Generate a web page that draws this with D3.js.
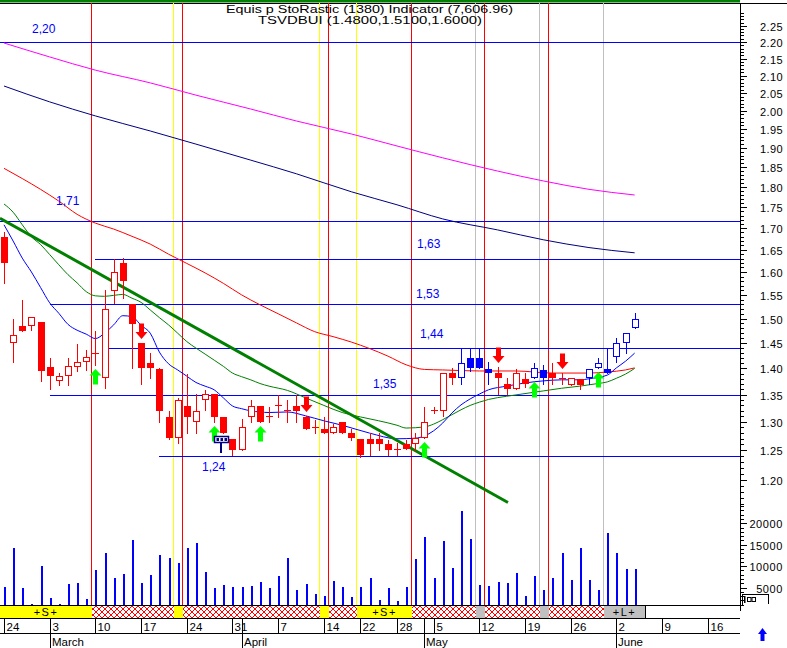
<!DOCTYPE html>
<html><head><meta charset="utf-8">
<script src="https://cdn.jsdelivr.net/npm/d3@7"></script>
<style>body{margin:0;background:#fff}svg{display:block}text{font-family:"Liberation Sans",Arial,sans-serif}</style>
</head><body><svg id="c" width="787" height="648"></svg>
<script>
// ---------- DATA ----------
const open  = [1.680,1.450,1.485,1.485,1.493,1.403,1.376,1.385,1.403,1.412,1.431,1.381,1.559,1.621,1.530,1.450,1.411,1.399,1.309,1.271,1.329,1.299,1.340,1.351,1.308,1.269,1.250,1.309,1.329,1.311,1.330,1.322,1.329,1.308,1.290,1.288,1.280,1.299,1.280,1.270,1.270,1.270,1.261,1.252,1.261,1.261,1.271,1.322,1.320,1.391,1.381,1.420,1.420,1.399,1.391,1.370,1.360,1.379,1.381,1.397,1.392,1.381,1.369,1.379,1.381,1.400,1.399,1.423,1.451,1.480];
const high  = [1.690,1.500,1.540,1.503,1.493,1.420,1.392,1.421,1.448,1.436,1.475,1.560,1.628,1.631,1.530,1.450,1.430,1.400,1.320,1.343,1.390,1.352,1.359,1.351,1.308,1.269,1.306,1.340,1.329,1.328,1.349,1.340,1.349,1.311,1.303,1.308,1.297,1.299,1.288,1.270,1.280,1.280,1.268,1.262,1.268,1.280,1.328,1.328,1.391,1.400,1.440,1.440,1.440,1.413,1.403,1.381,1.399,1.391,1.411,1.407,1.410,1.391,1.381,1.379,1.399,1.420,1.440,1.460,1.471,1.512];
const low   = [1.575,1.413,1.475,1.476,1.376,1.360,1.368,1.368,1.394,1.396,1.407,1.362,1.532,1.543,1.400,1.371,1.381,1.300,1.270,1.262,1.281,1.281,1.321,1.299,1.281,1.242,1.250,1.300,1.300,1.300,1.309,1.300,1.300,1.288,1.280,1.280,1.280,1.281,1.268,1.239,1.242,1.250,1.242,1.242,1.252,1.250,1.271,1.316,1.310,1.371,1.371,1.394,1.400,1.371,1.352,1.351,1.360,1.365,1.381,1.371,1.371,1.371,1.369,1.361,1.371,1.400,1.391,1.413,1.431,1.480];
const close = [1.620,1.466,1.475,1.503,1.394,1.386,1.385,1.405,1.412,1.422,1.431,1.521,1.600,1.581,1.489,1.400,1.400,1.320,1.271,1.340,1.309,1.319,1.351,1.309,1.281,1.250,1.290,1.329,1.300,1.311,1.330,1.322,1.320,1.288,1.290,1.280,1.290,1.281,1.271,1.242,1.260,1.260,1.250,1.252,1.252,1.271,1.300,1.322,1.391,1.381,1.410,1.400,1.400,1.392,1.381,1.361,1.391,1.370,1.400,1.381,1.381,1.381,1.381,1.369,1.399,1.410,1.391,1.451,1.471,1.500];
const volume = [5070,14180,4840,1100,10050,2500,1240,5770,6000,2340,9110,13160,7170,8180,16120,6150,7940,12620,11850,10820,14250,15490,8650,4840,5540,5070,5070,5370,6310,4840,7710,11850,4440,5770,3430,3040,6540,5140,2880,5070,7240,2100,4910,1900,5210,11610,16820,7170,15890,9500,22900,16360,5610,5370,6240,6000,8410,3040,7710,4440,7170,13080,6780,14320,6780,4440,17690,13160,9280,9350];
const blueCandles = [50,51,52,53,58,59,64,65,66,67,68,69];

const maBlue = [[0,1.708],[1,1.670],[2,1.631],[3,1.600],[4,1.566],[5,1.533],[6,1.511],[7,1.488],[8,1.476],[9,1.468],[10,1.459],[11,1.470],[12,1.487],[13,1.506],[14,1.504],[15,1.486],[16,1.470],[17,1.432],[18,1.409],[19,1.397],[20,1.385],[21,1.373],[22,1.366],[23,1.359],[24,1.344],[25,1.329],[26,1.324],[27,1.320],[28,1.318],[29,1.317],[31,1.318],[33,1.311],[35,1.302],[37,1.294],[40,1.280],[43,1.270],[45,1.271],[46,1.275],[47,1.284],[48,1.298],[49,1.316],[50,1.331],[51,1.342],[52,1.351],[53,1.359],[55,1.366],[57,1.372],[59,1.376],[61,1.378],[63,1.378],[64,1.380],[66,1.387],[67,1.401],[68,1.414],[69,1.430]];
const maGreen = [[0,1.758],[1,1.738],[2,1.708],[3,1.680],[4,1.662],[5,1.639],[6,1.616],[7,1.594],[8,1.576],[9,1.557],[10,1.548],[11,1.547],[12,1.549],[13,1.551],[14,1.543],[15,1.534],[16,1.518],[17,1.502],[18,1.487],[19,1.470],[20,1.453],[21,1.440],[22,1.428],[23,1.416],[24,1.404],[25,1.391],[26,1.384],[27,1.378],[28,1.371],[29,1.366],[31,1.358],[33,1.344],[35,1.330],[37,1.317],[39,1.309],[41,1.302],[43,1.294],[44,1.289],[46,1.291],[47,1.296],[48,1.304],[49,1.313],[50,1.322],[51,1.330],[52,1.336],[53,1.341],[55,1.347],[57,1.352],[59,1.357],[61,1.362],[63,1.366],[65,1.371],[66,1.374],[67,1.381],[68,1.389],[69,1.400]];
const maRed = [[0,1.847],[2,1.821],[4,1.794],[6,1.765],[8,1.733],[10,1.712],[12,1.698],[14,1.681],[16,1.663],[18,1.640],[20,1.619],[22,1.598],[24,1.575],[26,1.550],[28,1.529],[30,1.510],[32,1.491],[34,1.473],[36,1.463],[38,1.452],[40,1.439],[42,1.424],[44,1.407],[46,1.398],[48,1.397],[52,1.395],[56,1.395],[60,1.391],[64,1.391],[66,1.393],[68,1.397],[69,1.401]];
const maNavy = [[0,2.070],[5,2.025],[10,1.986],[16,1.945],[21,1.910],[27,1.868],[32,1.833],[38,1.788],[43,1.756],[48,1.722],[54,1.696],[59,1.673],[64,1.655],[69,1.643]];
const maMagenta = [[0,2.197],[5,2.155],[10,2.116],[16,2.079],[21,2.044],[27,2.005],[32,1.972],[38,1.937],[43,1.905],[48,1.874],[54,1.840],[59,1.815],[64,1.794],[69,1.780]];
const trendLine = [[-0.44,1.7235],[55.14,1.1628]];

const levels      = [2.20,1.718,1.63,1.53,1.44,1.35,1.24];
const levelLabels = ["2,20","1,71","1,63","1,53","1,44","1,35","1,24"];
const levelStart  = [-1,-1,10,5,11,5,17];

const upSignals   = [10,23,28,46,58,65];
const downSignals = [15,33,54,61];
const exdIndex    = 24;

const redLines    = [9.5,19.5,35.5,44.5,52.5,59.5];
const yellowLines = [18.5,34.5,38.5];
const grayLines   = [51.5,58.5,65.5];
const statusSegs  = [[-1,9.5,"Y","+S+"],[9.5,18.5,"H",""],[18.5,19.5,"Y",""],[19.5,34.5,"H",""],[34.5,35.5,"Y",""],[35.5,38.5,"H",""],[38.5,44.5,"Y","+S+"],[44.5,51.5,"H",""],[51.5,52.5,"G",""],[52.5,58.5,"H",""],[58.5,59.5,"G",""],[59.5,65.5,"H",""],[65.5,70,"G","+L+"]];

const weekIdx   = [0,5,10,15,20,25,30,35,39,43,47,52,57,62,67,72,77];
const weekLbl   = ["24","3","10","17","24","31","7","14","22","28","5","12","19","26","2","9","16"];
const monthIdx  = [5,26,46,67];
const monthLbl  = ["March","April","May","June"];
const volTicks  = [5000,10000,15000,20000];
const titleParts = ["Equis p  StoRastic (1380)  Indicator (7,606.96)","TSVDBUI (1.4800,1.5100,1.6000)"];

// ---------- CHART ----------
const svg = d3.select("#c");
const R = 740, T = 3, B = 605;
const x  = d3.scaleLinear().domain([0,77]).range([4,707.78]);
const y  = d3.scaleLog().domain([1.2,2.25]).range([479.7,25.8]);
const yv = d3.scaleLinear().domain([0,20000]).range([609,523.3]);

const defs = svg.append("defs");
defs.append("clipPath").attr("id","clip").append("rect").attr("x",0).attr("y",T).attr("width",R).attr("height",B-T);
const pat = defs.append("pattern").attr("id","hatch").attr("patternUnits","userSpaceOnUse").attr("width",6).attr("height",6);
pat.append("rect").attr("width",6).attr("height",6).attr("fill","#fff");
pat.append("path").attr("d","M0,0L6,6M6,0L0,6M-1,5L1,7M5,-1L7,1M-1,1L1,-1M5,7L7,5").attr("stroke","#ff0000").attr("stroke-width",1);

svg.append("rect").attr("width",787).attr("height",648).attr("fill","#fff");
svg.append("rect").attr("x",0).attr("y",0).attr("width",R).attr("height",2.5).attr("fill","#008000");
svg.append("line").attr("x1",0).attr("x2",787).attr("y1",3.5).attr("y2",3.5).attr("stroke","#000");

const g = svg.append("g").attr("clip-path","url(#clip)");
const px = i => Math.round(x(i));

// vertical event lines
[[grayLines,"#c0c0c0"],[yellowLines,"#ffff00"],[redLines,"#ff0000"]].forEach(([arr,col])=>{
  g.selectAll(null).data(arr).enter().append("line")
   .attr("x1",d=>px(d)+0.5).attr("x2",d=>px(d)+0.5).attr("y1",T).attr("y2",B)
   .attr("stroke",col).attr("shape-rendering","crispEdges");
});

// horizontal levels
levels.forEach((v,k)=>{
  g.append("line").attr("x1",Math.max(0,px(levelStart[k]))).attr("x2",R)
   .attr("y1",Math.round(y(v))+0.5).attr("y2",Math.round(y(v))+0.5)
   .attr("stroke","#0000ff").attr("shape-rendering","crispEdges");
});
const lblPos = [[32,33],[56,205],[417,248],[416,298],[420,338],[373,388],[202,471]];
levelLabels.forEach((t,k)=>{
  svg.append("text").attr("x",lblPos[k][0]).attr("y",lblPos[k][1]).attr("font-size",12).attr("fill","#0000ff").text(t);
});

// moving averages
const line = d3.line().x(d=>x(d[0])).y(d=>y(d[1])).curve(d3.curveMonotoneX);
[[maMagenta,"#ff00ff"],[maNavy,"#000080"],[maRed,"#ff0000"],[maGreen,"#008000"],[maBlue,"#0000ff"]].forEach(([d,c])=>{
  g.append("path").attr("d",line(d)).attr("fill","none").attr("stroke",c).attr("stroke-width",1);
});
g.append("path").attr("d",d3.line().x(d=>x(d[0])).y(d=>y(d[1]))(trendLine))
 .attr("fill","none").attr("stroke","#008000").attr("stroke-width",3);

// volume
g.selectAll(null).data(volume).enter().append("rect")
 .attr("x",(d,i)=>px(i)).attr("width",2).attr("y",d=>yv(d)).attr("height",d=>B-yv(d))
 .attr("fill","#0000ff").attr("shape-rendering","crispEdges");

// candles
open.forEach((o,i)=>{
  const h=high[i], l=low[i], c=close[i];
  const col = blueCandles.includes(i) ? "#0000ff" : "#ff0000";
  const cx = px(i);
  g.append("line").attr("x1",cx+0.5).attr("x2",cx+0.5).attr("y1",Math.round(y(h))).attr("y2",Math.round(y(l))+1)
   .attr("stroke",col).attr("shape-rendering","crispEdges");
  if (o===c) {
    const yy=Math.round(y(o))+0.5;
    g.append("line").attr("x1",cx-3).attr("x2",cx+4).attr("y1",yy).attr("y2",yy).attr("stroke",col).attr("shape-rendering","crispEdges");
  } else if (c>o) {
    const y1=Math.round(y(c)), y2=Math.round(y(o));
    g.append("rect").attr("x",cx-2.5).attr("y",y1+0.5).attr("width",6).attr("height",Math.max(1,y2-y1-1))
     .attr("fill","#fff").attr("stroke",col).attr("shape-rendering","crispEdges");
  } else {
    const y1=Math.round(y(o)), y2=Math.round(y(c));
    g.append("rect").attr("x",cx-3).attr("y",y1).attr("width",7).attr("height",Math.max(1,y2-y1))
     .attr("fill",col).attr("shape-rendering","crispEdges");
  }
});

// signals
upSignals.forEach(i=>{
  const cx=px(i)+0.5, t=Math.round(y(low[i]))+4;
  g.append("path").attr("d",`M${cx},${t}L${cx+6},${t+6.5}L${cx+2.5},${t+6.5}L${cx+2.5},${t+15.5}L${cx-2.5},${t+15.5}L${cx-2.5},${t+6.5}L${cx-6},${t+6.5}Z`).attr("fill","#00ff00");
});
downSignals.forEach(i=>{
  const cx=px(i)+0.5, b=Math.round(y(high[i]))-4;
  g.append("path").attr("d",`M${cx},${b}L${cx+6},${b-7}L${cx+2.5},${b-7}L${cx+2.5},${b-15.5}L${cx-2.5},${b-15.5}L${cx-2.5},${b-7}L${cx-6},${b-7}Z`).attr("fill","#ff0000");
});

// ex-dividend marker
{
  const cx=px(exdIndex);
  g.append("rect").attr("x",cx-3).attr("y",442).attr("width",2).attr("height",11).attr("fill","#000080");
  g.append("rect").attr("x",cx-8.5).attr("y",436.5).attr("width",14).attr("height",6).attr("fill","#fff").attr("stroke","#000080").attr("stroke-width",1.5);
  [0,4,8].forEach(d=>g.append("rect").attr("x",cx-6.5+d).attr("y",438).attr("width",2.5).attr("height",3).attr("fill","#000080"));
}

// right axis
svg.append("line").attr("x1",R+0.5).attr("x2",R+0.5).attr("y1",T).attr("y2",611).attr("stroke","#000").attr("shape-rendering","crispEdges");
for (let k=116;k<=229;k++){
  const v=k/100, yy=Math.round(y(v))+0.5, major=(k%5===0);
  svg.append("line").attr("x1",R).attr("x2",major?R+7:R+3.5).attr("y1",yy).attr("y2",yy).attr("stroke","#000").attr("shape-rendering","crispEdges");
  if (major && k>=120 && k<=225) svg.append("text").attr("x",783).attr("y",yy+4).attr("text-anchor","end").attr("font-size",11).attr("letter-spacing",0.4).text(v.toFixed(2));
}
for (let v=1000; v<=24000; v+=1000){
  const yy=Math.round(yv(v))+0.5, major=(v%5000===0);
  svg.append("line").attr("x1",R).attr("x2",major?R+7:R+3.5).attr("y1",yy).attr("y2",yy).attr("stroke","#000").attr("shape-rendering","crispEdges");
}
volTicks.forEach(v=>svg.append("text").attr("x",783).attr("y",Math.round(yv(v))+4.5).attr("text-anchor","end").attr("font-size",11).attr("letter-spacing",0.6).text(v));

// small widget lower right
svg.append("path").attr("d","M742.5,605V594.5H768.5V604").attr("fill","none").attr("stroke","#000").attr("shape-rendering","crispEdges");
svg.append("rect").attr("x",744).attr("y",596).attr("width",1.5).attr("height",7).attr("fill","#000");
[747,751.5].forEach(xx=>svg.append("rect").attr("x",xx+0.5).attr("y",597.5).attr("width",3.5).attr("height",4).attr("fill","none").attr("stroke","#000").attr("stroke-width",1));
// blue up arrow
svg.append("path").attr("d","M762.5,628L767,634L764.5,634L764.5,641L760.5,641L760.5,634L758,634Z").attr("fill","#0000ff");

// status bar
statusSegs.forEach(([a,b,t,lab])=>{
  const x0=Math.max(0,px(a)+ (a<0?0:1)), x1=px(b)+1;
  svg.append("rect").attr("x",x0).attr("y",605).attr("width",x1-x0).attr("height",13.5)
    .attr("fill", t==="Y"?"#ffff00": t==="G"?"#c0c0c0":"url(#hatch)").attr("shape-rendering","crispEdges");
  if (lab) svg.append("text").attr("x",(x0+x1)/2).attr("y",616).attr("text-anchor","middle").attr("font-size",11).attr("letter-spacing",1.5).text(lab);
});
{
  const xe=px(70)+1.5;
  svg.append("line").attr("x1",xe).attr("x2",xe).attr("y1",605).attr("y2",618).attr("stroke","#000").attr("shape-rendering","crispEdges");
}
[605.5,618.5,633.5].forEach(yy=>svg.append("line").attr("x1",0).attr("x2",R).attr("y1",yy).attr("y2",yy).attr("stroke","#000").attr("shape-rendering","crispEdges"));

// date axis
weekIdx.forEach((i,k)=>{
  const xx=px(i)+0.5;
  svg.append("line").attr("x1",xx).attr("x2",xx).attr("y1",619).attr("y2",633).attr("stroke","#000").attr("shape-rendering","crispEdges");
  svg.append("text").attr("x",xx+2).attr("y",631).attr("font-size",11.5).text(weekLbl[k]);
});
monthIdx.forEach((i,k)=>{
  const xx=px(i)+0.5;
  svg.append("line").attr("x1",xx).attr("x2",xx).attr("y1",619).attr("y2",648).attr("stroke","#000").attr("shape-rendering","crispEdges");
  svg.append("text").attr("x",xx+1.5).attr("y",646).attr("font-size",11.5).text(monthLbl[k]);
});

// title legend: two compact lines in the top band
svg.append("text").attr("x",226).attr("y",13).attr("font-size",10.5).attr("textLength",287).attr("lengthAdjust","spacingAndGlyphs").text(titleParts[0]);
svg.append("text").attr("x",258).attr("y",24).attr("font-size",10.5).attr("textLength",224).attr("lengthAdjust","spacingAndGlyphs").text(titleParts[1]);
</script></body></html>
